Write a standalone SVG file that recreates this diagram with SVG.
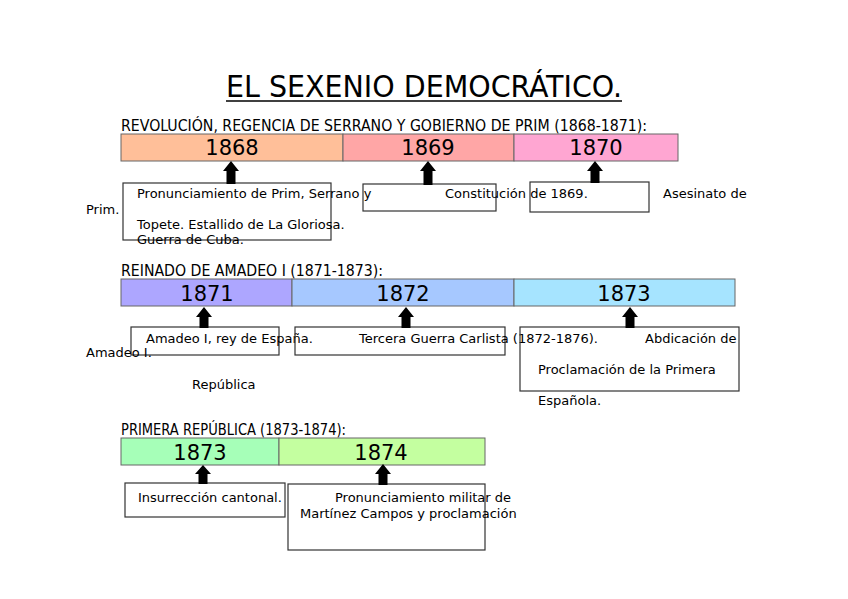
<svg xmlns="http://www.w3.org/2000/svg" width="848" height="599" viewBox="0 0 848 599">
<defs>
<style>
.title{font-family:"DejaVu Sans Condensed","DejaVu Sans",sans-serif;font-stretch:condensed;font-size:31px;fill:#000}
.hdr{font-family:"DejaVu Sans Condensed","DejaVu Sans",sans-serif;font-stretch:condensed;font-size:15.5px;fill:#000}
.yr{font-family:"DejaVu Sans",sans-serif;font-size:21px;fill:#000;text-anchor:middle}
.txt{font-family:"DejaVu Sans",sans-serif;font-size:13px;fill:#000}
.bar{stroke:#666;stroke-width:1}
.box{fill:none;stroke:#333;stroke-width:1.2}
.arr{fill:#000}
</style>
</defs>
<rect width="848" height="599" fill="#fff"/>
<g id="title">
<text class="title" x="226" y="97" textLength="396" lengthAdjust="spacingAndGlyphs">EL SEXENIO DEMOCRÁTICO.</text>
<line x1="226" y1="101" x2="622" y2="101" stroke="#000" stroke-width="1.5"/>
</g>

<g id="header1"><text class="hdr" x="121" y="131" textLength="526" lengthAdjust="spacingAndGlyphs">REVOLUCIÓN, REGENCIA DE SERRANO Y GOBIERNO DE PRIM (1868-1871):</text></g>
<g id="y1868"><rect class="bar" x="121" y="134" width="222" height="27" fill="#ffbf99"/><text class="yr" x="232" y="155">1868</text></g>
<g id="y1869"><rect class="bar" x="343" y="134" width="171" height="27" fill="#ffa6a6"/><text class="yr" x="428" y="155">1869</text></g>
<g id="y1870"><rect class="bar" x="514" y="134" width="164" height="27" fill="#ffa6d2"/><text class="yr" x="596" y="155">1870</text></g>

<g id="box1868"><rect class="box" x="123" y="183" width="208" height="57"/>
<text class="txt" x="137" y="198">Pronunciamiento de Prim, Serrano y</text>
<text class="txt" x="86" y="214">Prim.</text>
<text class="txt" x="137" y="229">Topete. Estallido de La Gloriosa.</text>
<text class="txt" x="137" y="244">Guerra de Cuba.</text>
</g>
<g id="box1869"><rect class="box" x="363" y="184" width="133" height="27"/>
<text class="txt" x="445" y="198">Constitución de 1869.</text>
</g>
<g id="box1870"><rect class="box" x="530" y="182" width="119" height="30"/>
<text class="txt" x="663" y="198">Asesinato de</text>
</g>

<g id="header2"><text class="hdr" x="121" y="276" textLength="262" lengthAdjust="spacingAndGlyphs">REINADO DE AMADEO I (1871-1873):</text></g>
<g id="y1871"><rect class="bar" x="121" y="279" width="171" height="27" fill="#ada6ff"/><text class="yr" x="207" y="301">1871</text></g>
<g id="y1872"><rect class="bar" x="292" y="279" width="222" height="27" fill="#a6c8ff"/><text class="yr" x="403" y="301">1872</text></g>
<g id="y1873a"><rect class="bar" x="514" y="279" width="221" height="27" fill="#a6e4ff"/><text class="yr" x="624" y="301">1873</text></g>

<g id="box1871"><rect class="box" x="131" y="327" width="148" height="28"/>
<text class="txt" x="146" y="343">Amadeo I, rey de España.</text>
<text class="txt" x="86" y="357">Amadeo I.</text>
<text class="txt" x="192" y="389">República</text>
</g>
<g id="box1872"><rect class="box" x="295" y="327" width="210" height="28"/>
<text class="txt" x="359" y="343">Tercera Guerra Carlista (1872-1876).</text>
<text class="txt" x="645" y="343">Abdicación de</text>
</g>
<g id="box1873a"><rect class="box" x="520" y="327" width="219" height="64"/>
<text class="txt" x="538" y="374">Proclamación de la Primera</text>
<text class="txt" x="538" y="405">Española.</text>
</g>

<g id="header3"><text class="hdr" x="121" y="435" textLength="225" lengthAdjust="spacingAndGlyphs">PRIMERA REPÚBLICA (1873-1874):</text></g>
<g id="y1873b"><rect class="bar" x="121" y="438" width="158" height="27" fill="#a6ffb8"/><text class="yr" x="200" y="460">1873</text></g>
<g id="y1874"><rect class="bar" x="279" y="438" width="206" height="27" fill="#c4ffa0"/><text class="yr" x="381" y="460">1874</text></g>

<g id="box1873b"><rect class="box" x="125" y="483" width="160" height="34"/>
<text class="txt" x="138" y="502">Insurrección cantonal.</text>
</g>
<g id="box1874"><rect class="box" x="288" y="484" width="197" height="66"/>
<text class="txt" x="335" y="502">Pronunciamiento militar de</text>
<text class="txt" x="300" y="518">Martínez Campos y proclamación</text>
</g>

<g id="connectors">
<path class="arr" d="M231,161 L239,171 L235.5,171 L235.5,184 L226.5,184 L226.5,171 L223,171 Z"/>
<path class="arr" d="M428,161 L436,171 L432.5,171 L432.5,185 L423.5,185 L423.5,171 L420,171 Z"/>
<path class="arr" d="M595,161 L603,171 L599.5,171 L599.5,183 L590.5,183 L590.5,171 L587,171 Z"/>
<path class="arr" d="M204,307 L212,317 L208.5,317 L208.5,328 L199.5,328 L199.5,317 L196,317 Z"/>
<path class="arr" d="M406,307 L414,317 L410.5,317 L410.5,328 L401.5,328 L401.5,317 L398,317 Z"/>
<path class="arr" d="M630,307 L638,317 L634.5,317 L634.5,328 L625.5,328 L625.5,317 L622,317 Z"/>
<path class="arr" d="M203,465 L211,474 L207.5,474 L207.5,484 L198.5,484 L198.5,474 L195,474 Z"/>
<path class="arr" d="M383,464 L391,474 L387.5,474 L387.5,485 L378.5,485 L378.5,474 L375,474 Z"/>
</g>
</svg>
